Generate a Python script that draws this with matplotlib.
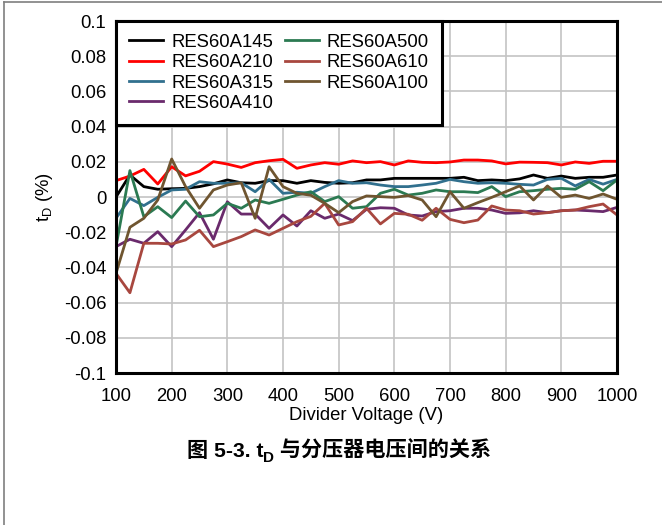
import numpy as np
import matplotlib
matplotlib.use('Agg')
import matplotlib.pyplot as plt
from matplotlib.lines import Line2D

plt.rcParams['font.family'] = ['Liberation Sans', 'Noto Sans CJK SC']
plt.rcParams['mathtext.fontset'] = 'custom'
plt.rcParams['mathtext.rm'] = 'Liberation Sans'

# divider voltage sweep, 25 V steps
voltage = np.arange(100, 1001, 25)

res145 = [0.0, 0.0125, 0.0059, 0.0044, 0.0047, 0.0049, 0.0059, 0.0075, 0.0097, 0.0081,
          0.0078, 0.0093, 0.0093, 0.0078, 0.0093, 0.0083, 0.0078, 0.0081, 0.0097, 0.0097,
          0.0106, 0.0106, 0.0106, 0.0106, 0.0106, 0.0112, 0.0093, 0.0097, 0.0093, 0.0103,
          0.0125, 0.0106, 0.0119, 0.0106, 0.0112, 0.0112, 0.0125]
res210 = [0.0093, 0.0119, 0.0157, 0.0074, 0.0172, 0.0120, 0.0146, 0.0201, 0.0187, 0.0168,
          0.0195, 0.0206, 0.0214, 0.0163, 0.0182, 0.0195, 0.0186, 0.0205, 0.0195, 0.0201,
          0.0182, 0.0205, 0.0197, 0.0195, 0.0199, 0.0210, 0.0210, 0.0205, 0.0188, 0.0198,
          0.0197, 0.0195, 0.0182, 0.0199, 0.0191, 0.0203, 0.0203]
res315 = [-0.0121, -0.0008, -0.0049, -0.0002, 0.0040, 0.0044, 0.0087, 0.0078, 0.0078, 0.0081,
          0.0030, 0.0100, 0.0021, 0.0027, 0.0021, 0.0059, 0.0093, 0.0078, 0.0081, 0.0068,
          0.0059, 0.0059, 0.0068, 0.0078, 0.0100, 0.0087, 0.0078, 0.0081, 0.0078, 0.0072,
          0.0068, 0.0100, 0.0106, 0.0063, 0.0100, 0.0073, 0.0100]
res410 = [-0.0282, -0.0240, -0.0263, -0.0197, -0.0282, -0.0187, -0.0089, -0.0240, -0.0027, -0.0097,
          -0.0097, -0.0178, -0.0102, -0.0165, -0.0078, -0.0121, -0.0097, -0.0134, -0.0070, -0.0061,
          -0.0064, -0.0102, -0.0108, -0.0083, -0.0078, -0.0064, -0.0064, -0.0074, -0.0093, -0.0090,
          -0.0078, -0.0089, -0.0078, -0.0074, -0.0078, -0.0083, -0.0059]
res500 = [-0.0282, 0.0150, -0.0112, -0.0055, -0.0117, -0.0023, -0.0112, -0.0102, -0.0036, -0.0064,
          -0.0017, -0.0036, -0.0013, 0.0011, 0.0030, -0.0026, 0.0002, -0.0064, -0.0055, 0.0021,
          0.0044, 0.0011, 0.0021, 0.0040, 0.0030, 0.0030, 0.0025, 0.0059, 0.0002, 0.0030,
          0.0036, 0.0044, 0.0049, 0.0044, 0.0087, 0.0036, 0.0097]
res610 = [-0.0434, -0.0544, -0.0263, -0.0263, -0.0267, -0.0244, -0.0189, -0.0282, -0.0254, -0.0225,
          -0.0187, -0.0216, -0.0178, -0.0140, -0.0110, -0.0036, -0.0159, -0.0140, -0.0064, -0.0153,
          -0.0093, -0.0098, -0.0132, -0.0064, -0.0127, -0.0146, -0.0131, -0.0051, -0.0074, -0.0078,
          -0.0097, -0.0089, -0.0078, -0.0074, -0.0055, -0.0040, -0.0102]
res100 = [-0.0434, -0.0172, -0.0121, -0.0017, 0.0216, 0.0059, -0.0064, 0.0040, 0.0068, 0.0081,
          -0.0121, 0.0172, 0.0059, 0.0021, 0.0010, -0.0036, -0.0089, -0.0026, 0.0006, 0.0002,
          -0.0002, 0.0008, -0.0017, -0.0112, 0.0030, -0.0064, -0.0032, -0.0002, 0.0030, 0.0063,
          -0.0017, 0.0063, -0.0002, 0.0011, -0.0008, 0.0017, -0.0013]

names = ['RES60A145', 'RES60A210', 'RES60A315', 'RES60A410',
         'RES60A500', 'RES60A610', 'RES60A100']
series = [res145, res210, res315, res410, res500, res610, res100]
colors = ['#000000', '#ff0000', '#31708e', '#6a2a6c', '#2b7a52', '#a8473f', '#6f5530']

x_ticks = np.arange(100, 1001, 100)
y_ticks = np.arange(-0.1, 0.1001, 0.02)

fs = 13.3

fig = plt.figure(figsize=(6.62, 5.25), dpi=100)
ax = fig.add_axes([116/662, 1 - 373/525, 501/662, 352/525])

for name, vals, c in zip(names, series, colors):
    ax.plot(voltage, vals, color=c, lw=2.0, label=name)

ax.set_xlim(100, 1000)
ax.set_ylim(-0.1, 0.1)
ax.set_xticks(x_ticks)
ax.set_yticks(y_ticks)
ax.set_yticklabels(['-0.1', '-0.08', '-0.06', '-0.04', '-0.02', '0',
                    '0.02', '0.04', '0.06', '0.08', '0.1'])
ax.grid(True, color='#c4c4c4', lw=1.2)
ax.set_axisbelow(True)
ax.tick_params(length=0, labelsize=fs)
ax.tick_params(axis='x', pad=11)
ax.tick_params(axis='y', pad=7)
for s in ax.spines.values():
    s.set_linewidth(2.2)
    s.set_color('black')

ax.set_xlabel('Divider Voltage (V)', fontsize=fs, labelpad=1)
ax.set_ylabel('t$_\\mathregular{D}$ (%)', fontsize=fs, labelpad=6)

leg = ax.legend(loc='upper left', ncol=2, fontsize=fs, borderaxespad=0,
                fancybox=False, framealpha=1, edgecolor='black',
                handlelength=1.85, handletextpad=0.45, columnspacing=0.6,
                labelspacing=0.18, borderpad=0.7)
leg.get_frame().set_linewidth(2.2)

# caption, pieced together so the subscript sits below the baseline
cap_kw = dict(fontsize=15.2, fontweight='bold', annotation_clip=False)
t1 = ax.annotate('图 5-3. t', xy=(187/662, 1 - 461/525), xycoords='figure fraction',
                 ha='left', va='bottom', **cap_kw)
t2 = ax.annotate('D', xy=(1, 0), xycoords=t1, xytext=(0, -3), textcoords='offset points',
                 ha='left', va='bottom', fontsize=11, fontweight='bold', annotation_clip=False)
ax.annotate(' 与分压器电压间的关系', xy=(1, 0), xycoords=t2, xytext=(0, 3),
            textcoords='offset points', ha='left', va='bottom', **cap_kw)

# page frame lines
fig.add_artist(Line2D([3.5/662, 3.5/662], [0, 1 - 1.5/525], transform=fig.transFigure,
                      color='#7f7f7f', lw=1.2))
fig.add_artist(Line2D([3.5/662, 1], [1 - 1.5/525, 1 - 1.5/525], transform=fig.transFigure,
                      color='#7f7f7f', lw=1.2))

fig.savefig('out.png', dpi=100)
